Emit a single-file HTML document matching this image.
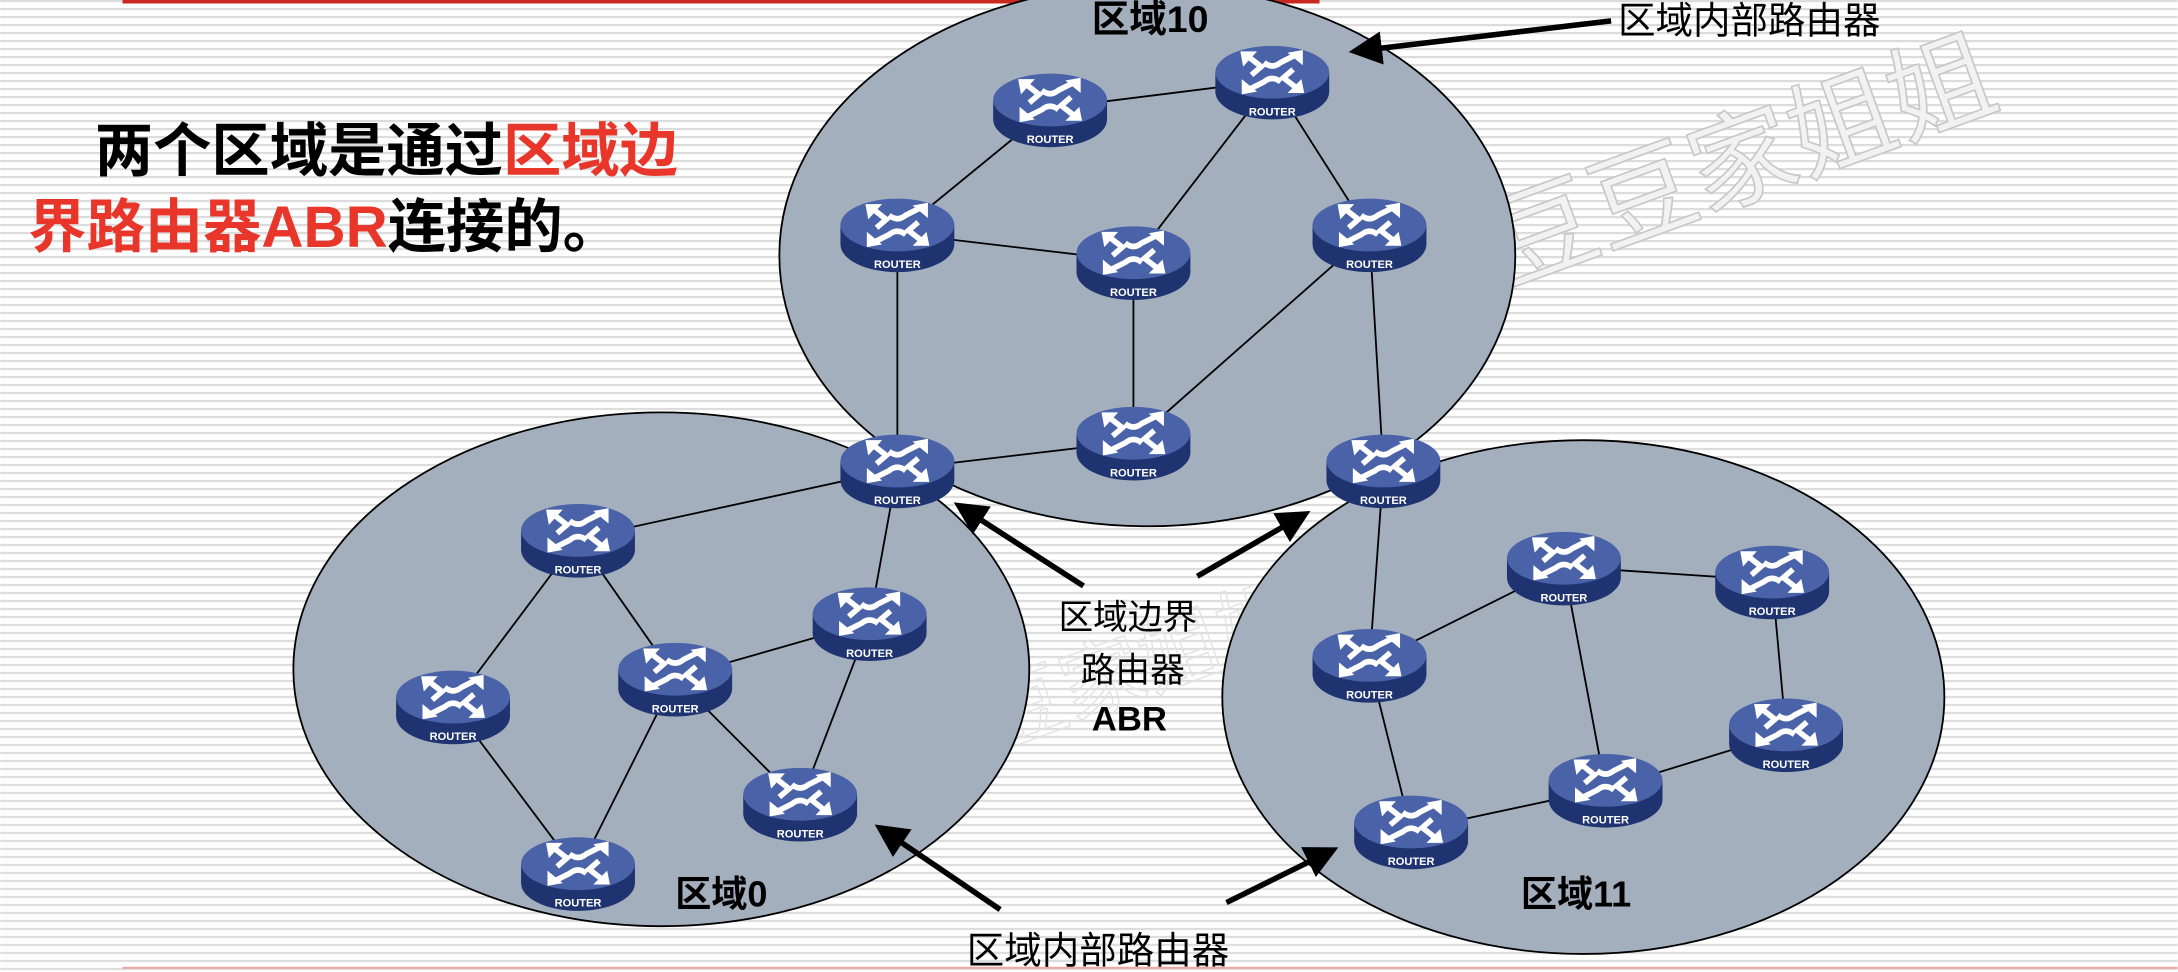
<!DOCTYPE html>
<html><head><meta charset="utf-8"><style>
html,body{margin:0;padding:0;background:#fff;}
svg{display:block;}
text{font-family:"Liberation Sans","Noto Sans CJK SC",sans-serif;}
</style></head><body>
<svg width="2178" height="972" viewBox="0 0 1568 700" xmlns="http://www.w3.org/2000/svg">
<defs>
<pattern id="st" width="20" height="5.76" patternUnits="userSpaceOnUse">
<rect x="0" y="0" width="20" height="1.6" fill="#dcdcdc"/>
</pattern>
<marker id="ah" markerWidth="6" markerHeight="6" refX="5" refY="3" orient="auto" markerUnits="strokeWidth">
<path d="M0,0 L6,3 L0,6 z" fill="#000"/>
</marker>
<g id="rt">
<ellipse cx="0" cy="8" rx="41" ry="20" fill="#1e336f"/>
<rect x="-41" y="-6" width="82" height="14" fill="#1e336f"/>
<ellipse cx="0" cy="-6" rx="41" ry="19" fill="#4a62a8"/>
<g fill="none" stroke="#fff" stroke-width="4">
<path d="M-17,-17 L-8,-10 L-15,-4"/>
<path d="M-6,-13 Q0,-8 6,-13 L16,-18"/>
<path d="M17,5 L8,-2 L15,-8"/>
<path d="M6,1 Q0,-4 -6,1 L-16,6"/>
</g>
<g fill="#fff">
<path d="M-23,-21 L-11,-21 L-21,-10 z"/>
<path d="M22,-22 L22,-11 L11,-20 z"/>
<path d="M23,9 L11,9 L21,-1 z"/>
<path d="M-22,10 L-22,-1 L-11,8 z"/>
</g>
</g>
</defs>
<rect width="1568" height="700" fill="#fff"/>
<rect width="1568" height="700" fill="url(#st)"/>
<line x1="88" y1="1" x2="950" y2="1" stroke="#c8281e" stroke-width="3"/>
<line x1="88" y1="697" x2="1568" y2="697" stroke="#e9a9a5" stroke-width="1.5"/>
<text x="1085" y="205" font-size="76" fill="#f2f2f2" stroke="#c8c8c8" stroke-width="1.2" transform="rotate(-20 1085 205)">豆豆家姐姐</text>
<text x="660" y="560" font-size="60" fill="none" stroke="#e2e2e2" stroke-width="1" transform="rotate(-20 660 560)">豆豆家姐姐</text>

<ellipse cx="826" cy="184" rx="265" ry="195" fill="#a4afbe" stroke="#000" stroke-width="1.3"/>
<ellipse cx="476" cy="482" rx="265" ry="185" fill="#a4afbe" stroke="#000" stroke-width="1.3"/>
<ellipse cx="1140" cy="502" rx="260" ry="185" fill="#a4afbe" stroke="#000" stroke-width="1.3"/>

<g stroke="#000" stroke-width="1.3">
<line x1="756" y1="78" x2="916" y2="58"/>
<line x1="756" y1="78" x2="646" y2="168"/>
<line x1="646" y1="168" x2="816" y2="188"/>
<line x1="816" y1="188" x2="916" y2="58"/>
<line x1="916" y1="58" x2="986" y2="168"/>
<line x1="646" y1="168" x2="646" y2="338"/>
<line x1="816" y1="188" x2="816" y2="318"/>
<line x1="986" y1="168" x2="816" y2="318"/>
<line x1="986" y1="168" x2="996" y2="338"/>
<line x1="646" y1="338" x2="816" y2="318"/>
<line x1="646" y1="338" x2="416" y2="388"/>
<line x1="646" y1="338" x2="626" y2="448"/>
<line x1="416" y1="388" x2="486" y2="488"/>
<line x1="416" y1="388" x2="326" y2="508"/>
<line x1="486" y1="488" x2="626" y2="448"/>
<line x1="626" y1="448" x2="576" y2="578"/>
<line x1="486" y1="488" x2="576" y2="578"/>
<line x1="326" y1="508" x2="416" y2="628"/>
<line x1="486" y1="488" x2="416" y2="628"/>
<line x1="996" y1="338" x2="986" y2="478"/>
<line x1="986" y1="478" x2="1126" y2="408"/>
<line x1="1126" y1="408" x2="1276" y2="418"/>
<line x1="1276" y1="418" x2="1286" y2="528"/>
<line x1="1126" y1="408" x2="1156" y2="568"/>
<line x1="1286" y1="528" x2="1156" y2="568"/>
<line x1="1156" y1="568" x2="1016" y2="598"/>
<line x1="986" y1="478" x2="1016" y2="598"/>
</g>

<g>
<use href="#rt" x="756" y="78"/><use href="#rt" x="916" y="58"/><use href="#rt" x="646" y="168"/>
<use href="#rt" x="816" y="188"/><use href="#rt" x="986" y="168"/><use href="#rt" x="816" y="318"/>
<use href="#rt" x="646" y="338"/><use href="#rt" x="996" y="338"/>
<use href="#rt" x="416" y="388"/><use href="#rt" x="626" y="448"/><use href="#rt" x="486" y="488"/>
<use href="#rt" x="326" y="508"/><use href="#rt" x="576" y="578"/><use href="#rt" x="416" y="628"/>
<use href="#rt" x="1126" y="408"/><use href="#rt" x="1276" y="418"/><use href="#rt" x="986" y="478"/>
<use href="#rt" x="1286" y="528"/><use href="#rt" x="1156" y="568"/><use href="#rt" x="1016" y="598"/>
</g>
<g font-size="8" font-weight="bold" fill="#fff" text-anchor="middle">
<text x="756" y="103">ROUTER</text><text x="916" y="83">ROUTER</text><text x="646" y="193">ROUTER</text>
<text x="816" y="213">ROUTER</text><text x="986" y="193">ROUTER</text><text x="816" y="343">ROUTER</text>
<text x="646" y="363">ROUTER</text><text x="996" y="363">ROUTER</text>
<text x="416" y="413">ROUTER</text><text x="626" y="473">ROUTER</text><text x="486" y="513">ROUTER</text>
<text x="326" y="533">ROUTER</text><text x="576" y="603">ROUTER</text><text x="416" y="653">ROUTER</text>
<text x="1126" y="433">ROUTER</text><text x="1276" y="443">ROUTER</text><text x="986" y="503">ROUTER</text>
<text x="1286" y="553">ROUTER</text><text x="1156" y="593">ROUTER</text><text x="1016" y="623">ROUTER</text>
</g>

<g stroke="#000" stroke-width="4" marker-end="url(#ah)">
<line x1="1160" y1="15" x2="975" y2="37"/>
<line x1="780" y1="422" x2="690" y2="364"/>
<line x1="862" y1="415" x2="940" y2="370"/>
<line x1="720" y1="655" x2="633" y2="596"/>
<line x1="883" y1="650" x2="960" y2="612"/>
</g>

<g font-size="27" fill="#000">
<text x="1165" y="24">区域内部路由器</text>
<text x="696" y="694">区域内部路由器</text>
<text x="786" y="23" font-weight="bold">区域10</text>
<text x="486" y="653" font-weight="bold" font-size="26">区域0</text>
<text x="1095" y="653" font-weight="bold" font-size="26">区域11</text>
<text x="762" y="453" font-size="25">区域边界</text>
<text x="778" y="491" font-size="25">路由器</text>
<text x="786" y="526" font-size="25" font-weight="bold">ABR</text>
</g>

<g font-size="42" font-weight="bold">
<text x="68" y="123"><tspan fill="#000">两个区域是通过</tspan><tspan fill="#e8372a">区域边</tspan></text>
<text x="20" y="178"><tspan fill="#e8372a">界路由器ABR</tspan><tspan fill="#000">连接的。</tspan></text>
</g>
</svg>
</body></html>
